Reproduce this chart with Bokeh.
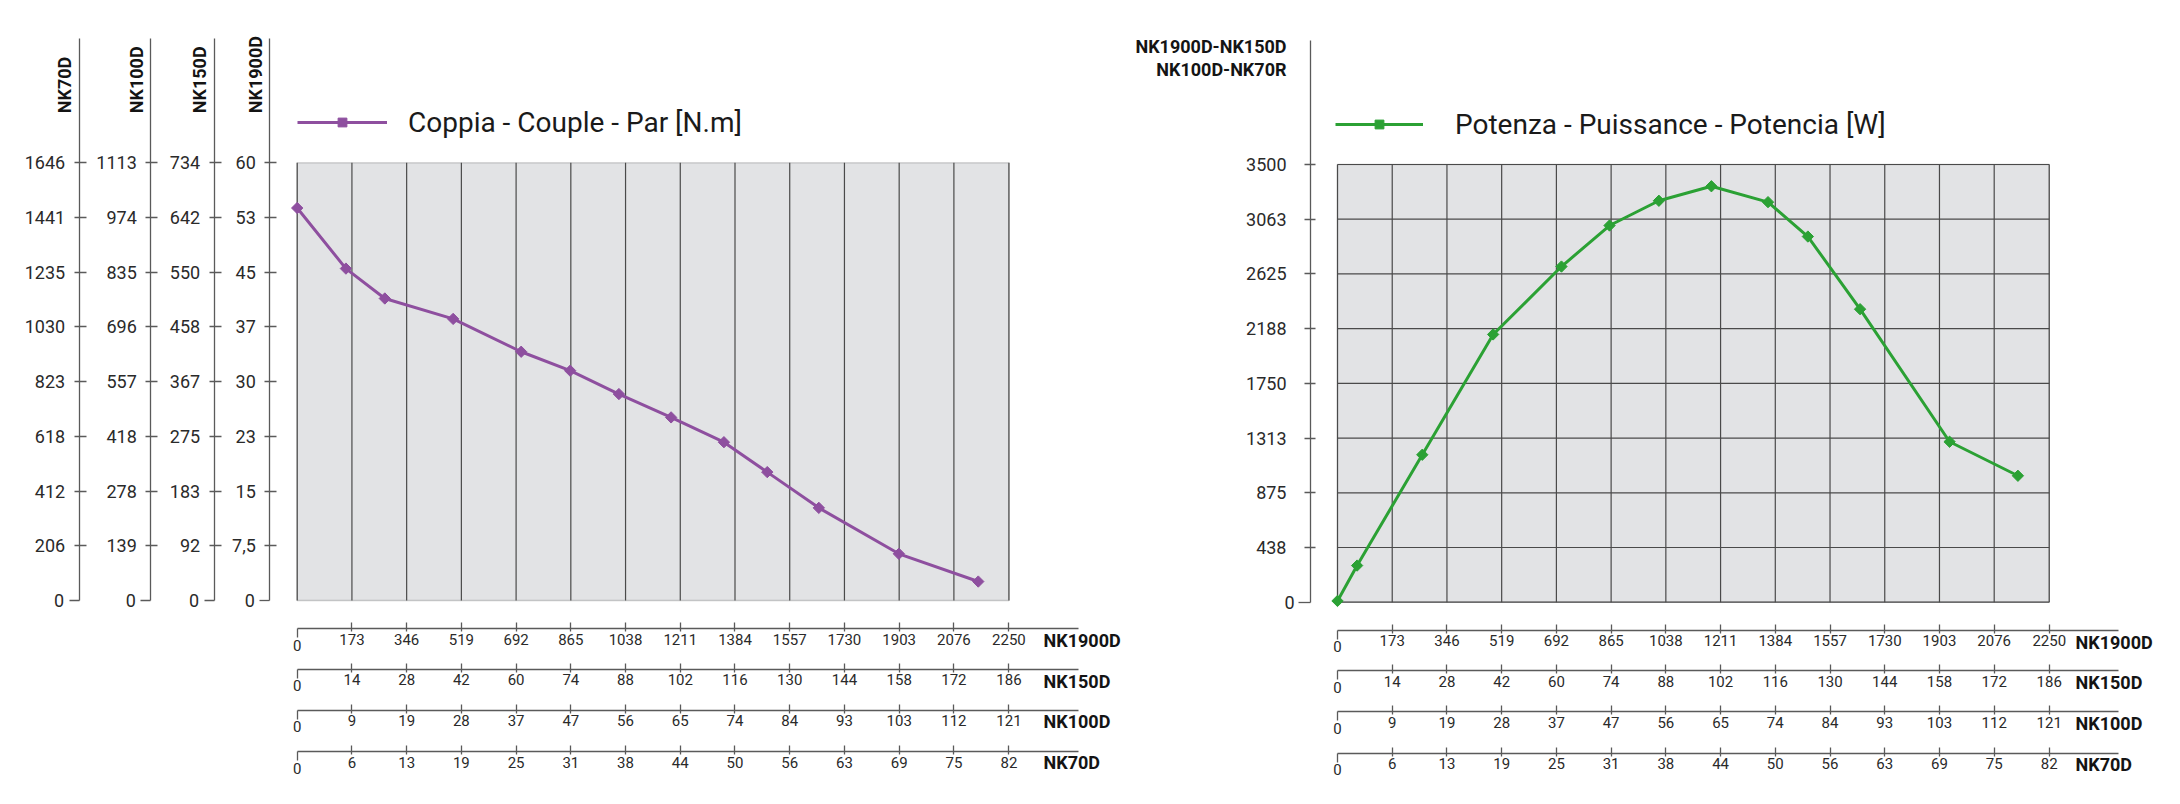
import math
from bokeh.plotting import figure
from bokeh.layouts import row
from bokeh.models import (Range1d, LinearAxis, FixedTicker, BoxAnnotation,
                          Label, Legend, LegendItem)
from bokeh.embed import file_html
from bokeh.resources import INLINE

# ---------------- data ----------------
rpm_torque = [0, 154, 277, 493, 708, 863, 1017, 1182, 1349, 1486, 1649, 1902, 2153]
torque_nm = [53.8, 45.5, 41.4, 38.6, 34.1, 31.5, 28.3, 25.1, 21.7, 17.6, 12.7, 6.4, 2.6]

rpm_power = [0, 62, 268, 492, 708, 860, 1016, 1182, 1361, 1487, 1652, 1935, 2151]
power_w = [10, 293, 1179, 2141, 2684, 3012, 3210, 3326, 3199, 2924, 2343, 1283, 1011]

speed_ticks = [0, 173, 346, 519, 692, 865, 1038, 1211, 1384, 1557, 1730, 1903, 2076, 2250]
speed_labels_nk1900d = ["0", "173", "346", "519", "692", "865", "1038", "1211", "1384",
                        "1557", "1730", "1903", "2076", "2250"]
speed_labels_nk150d = ["0", "14", "28", "42", "60", "74", "88", "102", "116", "130",
                       "144", "158", "172", "186"]
speed_labels_nk100d = ["0", "9", "19", "28", "37", "47", "56", "65", "74", "84", "93",
                       "103", "112", "121"]
speed_labels_nk70d = ["0", "6", "13", "19", "25", "31", "38", "44", "50", "56", "63",
                      "69", "75", "82"]

torque_ticks = [0, 7.5, 15, 22.5, 30, 37.5, 45, 52.5, 60]
torque_labels_nk1900d = ["0", "7,5", "15", "23", "30", "37", "45", "53", "60"]
torque_labels_nk150d = ["0", "92", "183", "275", "367", "458", "550", "642", "734"]
torque_labels_nk100d = ["0", "139", "278", "418", "557", "696", "835", "974", "1113"]
torque_labels_nk70d = ["0", "206", "412", "618", "823", "1030", "1235", "1441", "1646"]

power_ticks = [0, 437.5, 875, 1312.5, 1750, 2187.5, 2625, 3062.5, 3500]
power_labels = ["0", "438", "875", "1313", "1750", "2188", "2625", "3063", "3500"]

model_names = ["NK1900D", "NK150D", "NK100D", "NK70D"]
torque_title = "Coppia - Couple - Par [N.m]"
power_title = "Potenza - Puissance - Potencia [W]"
power_models = ["NK1900D-NK150D", "NK100D-NK70R"]

# ---------------- styling ----------------
PURPLE = "#8e4f9f"
GREEN = "#2ba134"
GRID = "#4a4a4a"
AXIS = "#5a5a5a"
FILL = "#e2e3e5"
TXT = "#2a2a2a"
BOLD_TXT = "#141414"
FONT = "Roboto"

PX_PER_RPM = 54.75 / 173.08
PX_PER_NM = 437.7 / 60
PX_PER_W = 437.7 / 3500
FIG_H = 796
L_W, R_W = 1130, 1042


def style(ax, size, t_in, t_out, standoff, line=True):
    ax.axis_line_color = AXIS if line else None
    ax.axis_line_width = 1.3
    ax.major_tick_line_color = AXIS
    ax.major_tick_line_width = 1.3
    ax.major_tick_in = t_in
    ax.major_tick_out = t_out
    ax.minor_tick_in = 0
    ax.minor_tick_out = 0
    ax.major_label_standoff = standoff
    ax.major_label_text_font = FONT
    ax.major_label_text_font_size = size
    ax.major_label_text_color = TXT


def add_axis(p, side, ticks, labels, loc, bounds, size, t_in, t_out, standoff,
             zero_out, zero_standoff):
    main = LinearAxis(ticker=FixedTicker(ticks=ticks[1:]),
                      major_label_overrides=dict(zip(ticks[1:], labels[1:])),
                      fixed_location=loc, bounds=bounds)
    style(main, size, t_in, t_out, standoff)
    zero = LinearAxis(ticker=FixedTicker(ticks=ticks[:1]),
                      major_label_overrides={ticks[0]: labels[0]},
                      fixed_location=loc, bounds=bounds)
    style(zero, size, 0, zero_out, zero_standoff, line=False)
    p.add_layout(main, side)
    p.add_layout(zero, side)


def make_figure(width, xd, yd, page_x):
    p = figure(width=width, height=FIG_H,
               x_range=Range1d(xd(page_x), xd(page_x + width)),
               y_range=Range1d(yd(FIG_H), yd(0)),
               x_axis_location=None, y_axis_location=None,
               toolbar_location=None, output_backend="svg",
               min_border=0, min_border_left=0, min_border_right=0,
               min_border_top=0, min_border_bottom=0,
               outline_line_color=None, background_fill_color="white",
               border_fill_color="white")
    p.title.visible = False
    p.grid.visible = False
    return p


def add_speed_axes(p, xd, yd, line_ys, line_end_px):
    labels_list = [speed_labels_nk1900d, speed_labels_nk150d,
                   speed_labels_nk100d, speed_labels_nk70d]
    for labels, ly in zip(labels_list, line_ys):
        add_axis(p, "below", speed_ticks, labels, yd(ly), (0, xd(line_end_px)),
                 "15px", 6, 3, 2, 9, 2)


def name_label(x, y, text, size="18px", align="left", angle=0.0):
    return Label(x=x, y=y, text=text, angle=angle, text_font=FONT,
                 text_font_style="bold", text_font_size=size, text_color=BOLD_TXT,
                 text_align=align, text_baseline="middle")


def add_names(p, xd, yd, name_px, centers):
    for name, c in zip(model_names, centers):
        p.add_layout(name_label(xd(name_px), yd(c), name))


def add_legend(p, line_r, color, title, loc, glyph_w, standoff):
    sq = p.scatter(x=[float("nan")], y=[float("nan")], marker="square", size=9,
                   color=color)
    leg = Legend(items=[LegendItem(label=title, renderers=[line_r, sq])],
                 location=loc, glyph_width=glyph_w, glyph_height=22,
                 label_standoff=standoff, padding=0, margin=0, spacing=0,
                 border_line_color=None, background_fill_alpha=0,
                 label_text_font=FONT, label_text_font_size="28px",
                 label_text_color="#1a1a1a")
    p.add_layout(leg)


# ================= left chart: torque =================
def xl(px):
    return (px - 296.7) / PX_PER_RPM


def yl(py):
    return (600.0 - py) / PX_PER_NM


p1 = make_figure(L_W, xl, yl, 0)

p1.add_layout(BoxAnnotation(left=speed_ticks[0], right=speed_ticks[-1],
                            bottom=torque_ticks[0], top=torque_ticks[-1],
                            fill_color=FILL, fill_alpha=1.0, line_color="#5c5c5c",
                            line_width=1.3, level="underlay"))
n = len(speed_ticks)
p1.segment(x0=speed_ticks, x1=speed_ticks, y0=[torque_ticks[0]] * n,
           y1=[torque_ticks[-1]] * n, line_color=GRID, line_width=1.2)

lr1 = p1.line(rpm_torque, torque_nm, line_color=PURPLE, line_width=3)
p1.scatter(rpm_torque, torque_nm, marker="square", angle=math.pi / 4, size=8,
           color=PURPLE)

for labels, lx in zip([torque_labels_nk1900d, torque_labels_nk150d,
                       torque_labels_nk100d, torque_labels_nk70d],
                      [269.3, 213.7, 150.3, 78.7]):
    add_axis(p1, "left", torque_ticks, labels, xl(lx), (0, yl(38.3)),
             "18px", 7, 5, 9, 10, 5)

add_speed_axes(p1, xl, yl, [628, 668.5, 709.5, 751], 1078)
add_names(p1, xl, yl, 1043, [640, 680.5, 721.3, 762.3])

for name, cx in zip(model_names, [254.8, 199.2, 135.8, 64.2]):
    p1.add_layout(name_label(xl(cx), yl(112.7), name, angle=math.pi / 2))

add_legend(p1, lr1, PURPLE, torque_title, (297, FIG_H - 138.5), 90, 21)


# ================= right chart: power =================
def xr(px):
    return (px - 1337.0) / PX_PER_RPM


def yr(py):
    return (601.7 - py) / PX_PER_W


p2 = make_figure(R_W, xr, yr, L_W)

p2.add_layout(BoxAnnotation(left=speed_ticks[0], right=speed_ticks[-1],
                            bottom=power_ticks[0], top=power_ticks[-1],
                            fill_color=FILL, fill_alpha=1.0, line_color="#5c5c5c",
                            line_width=1.3, level="underlay"))
m = len(power_ticks)
p2.segment(x0=speed_ticks, x1=speed_ticks, y0=[power_ticks[0]] * n,
           y1=[power_ticks[-1]] * n, line_color=GRID, line_width=1.2)
p2.segment(x0=[speed_ticks[0]] * m, x1=[speed_ticks[-1]] * m, y0=power_ticks,
           y1=power_ticks, line_color=GRID, line_width=1.2)

lr2 = p2.line(rpm_power, power_w, line_color=GREEN, line_width=3)
p2.scatter(rpm_power, power_w, marker="square", angle=math.pi / 4, size=8, color=GREEN)

add_axis(p2, "left", power_ticks, power_labels, xr(1310), (0, yr(40)),
         "18px", 5, 6, 18, 12, 4)

add_speed_axes(p2, xr, yr, [629.5, 670, 711, 752.5], 2118)
add_names(p2, xr, yr, 2075, [641.5, 682, 722.8, 763.8])

for txt, c in zip(power_models, [46.3, 68.8]):
    p2.add_layout(name_label(xr(1286), yr(c), txt, align="right"))

add_legend(p2, lr2, GREEN, power_title, (1335 - L_W, FIG_H - 140.5), 88, 32)

layout = row(p1, p2)
open("out.html", "w").write(file_html(layout, INLINE))
